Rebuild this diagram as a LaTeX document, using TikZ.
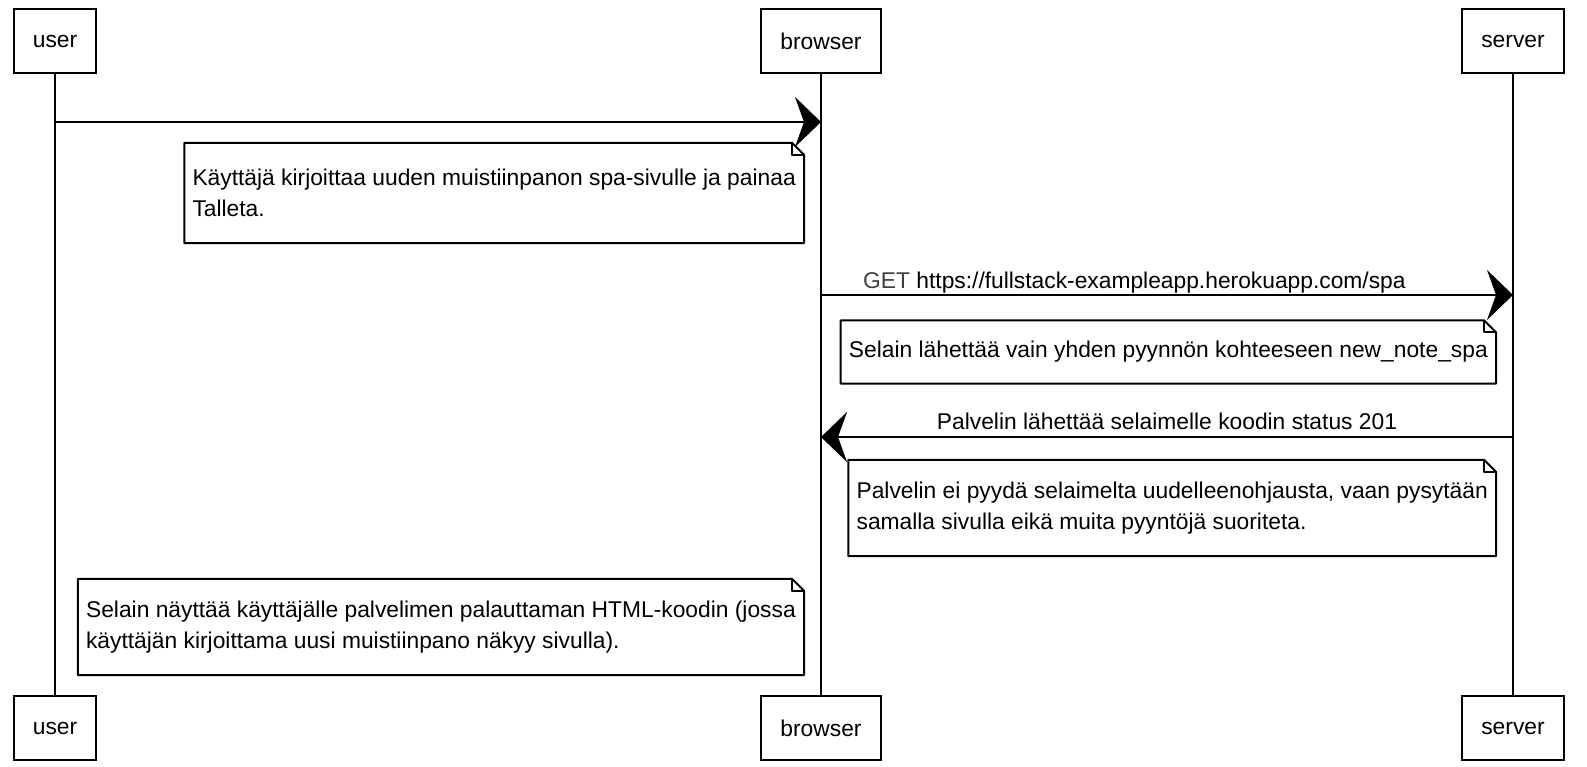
\documentclass[tikz,border=0pt]{standalone}
\usepackage{fontspec}
\setmainfont{Liberation Sans}
\usepackage{tikz}
\usetikzlibrary{calc}
\usetikzlibrary{arrows.meta}
\newcommand{\foldsize}{12pt}
\newcommand{\drawnote}[1]{%
    \draw[noteline] (#1.north west) -- ([xshift=-\foldsize]#1.north east) -- ([yshift=-\foldsize]#1.north east)
        -- (#1.south east) -- (#1.south west) -- cycle;
    \draw[noteline] ([xshift=-\foldsize]#1.north east) |- ([yshift=-\foldsize]#1.north east);
}
\tikzset{
    common/.style={font=\fontsize{22.8}{31.5}\selectfont},
    actor/.style={common, draw, rectangle, line width=2pt, minimum height=64pt, inner xsep=19pt},
    note/.style={common, align=left, inner xsep=8pt, minimum height=63pt},
    twolines/.style={minimum height=96pt},
    noteline/.style={line width=2pt, line join=round},
    lifeline/.style={line width=1.5pt},
    msg/.style={line width=2pt, -{Stealth[length=26pt, width=50pt, inset=9pt]}},
    msglabel/.style={common, inner sep=0pt}
}

\begin{document}
\begin{tikzpicture}[x=1pt, y=-1pt]
    \useasboundingbox (0,0) rectangle (1587,767);

    \node[actor] (userTop) at (55,41) {user};
    \node[actor] (browserTop) at (821,41) {browser};
    \node[actor] (serverTop) at (1513,41) {server};
    \node[actor] (userBot) at (55,728) {user};
    \node[actor] (browserBot) at (821,728) {browser};
    \node[actor] (serverBot) at (1513,728) {server};

    \draw[lifeline] (userTop) -- (userBot) (browserTop) -- (browserBot) (serverTop) -- (serverBot);

    \coordinate (m1) at (0,122);
    \coordinate (r1) at (0,193);
    \coordinate (lb2) at (0,288);
    \coordinate (m2) at (0,295);
    \coordinate (r2) at (0,352);
    \coordinate (lb3) at (0,429);
    \coordinate (m3) at (0,437);
    \coordinate (r3) at (0,508);
    \coordinate (r4) at (0,627);

    \draw[msg] (userTop |- m1) -- (browserTop |- m1);
    \node[note, twolines, minimum height=100pt, anchor=east] (n1) at ([xshift=-17pt]browserTop |- r1)
        {Käyttäjä kirjoittaa uuden muistiinpanon spa-sivulle ja painaa\\Talleta.};
    \drawnote{n1}

    \draw[msg] (browserTop |- m2) -- (serverTop |- m2);
    \node[msglabel, anchor=base west] (l2) at ([xshift=42pt]browserTop |- lb2)
        {\textcolor{black!75}{GET} https://fullstack-exampleapp.herokuapp.com/spa};
    \node[note, anchor=east] (n2) at ([xshift=-17pt]serverTop |- r2)
        {Selain lähettää vain yhden pyynnön kohteeseen new\_note\_spa};
    \drawnote{n2}

    \draw[msg] (serverTop |- m3) -- (browserTop |- m3);
    \node[msglabel, anchor=base] (l3) at ($(browserTop |- lb3)!0.5!(serverTop |- lb3)$)
        {Palvelin lähettää selaimelle koodin status 201};
    \node[note, twolines, anchor=east] (n3) at ([xshift=-17pt]serverTop |- r3)
        {Palvelin ei pyydä selaimelta uudelleenohjausta, vaan pysytään\\samalla sivulla eikä muita pyyntöjä suoriteta.};
    \drawnote{n3}

    \node[note, twolines, anchor=east] (n4) at ([xshift=-17pt]browserTop |- r4)
        {Selain näyttää käyttäjälle palvelimen palauttaman HTML-koodin (jossa\\käyttäjän kirjoittama uusi muistiinpano näkyy sivulla).};
    \drawnote{n4}
\end{tikzpicture}
\end{document}
